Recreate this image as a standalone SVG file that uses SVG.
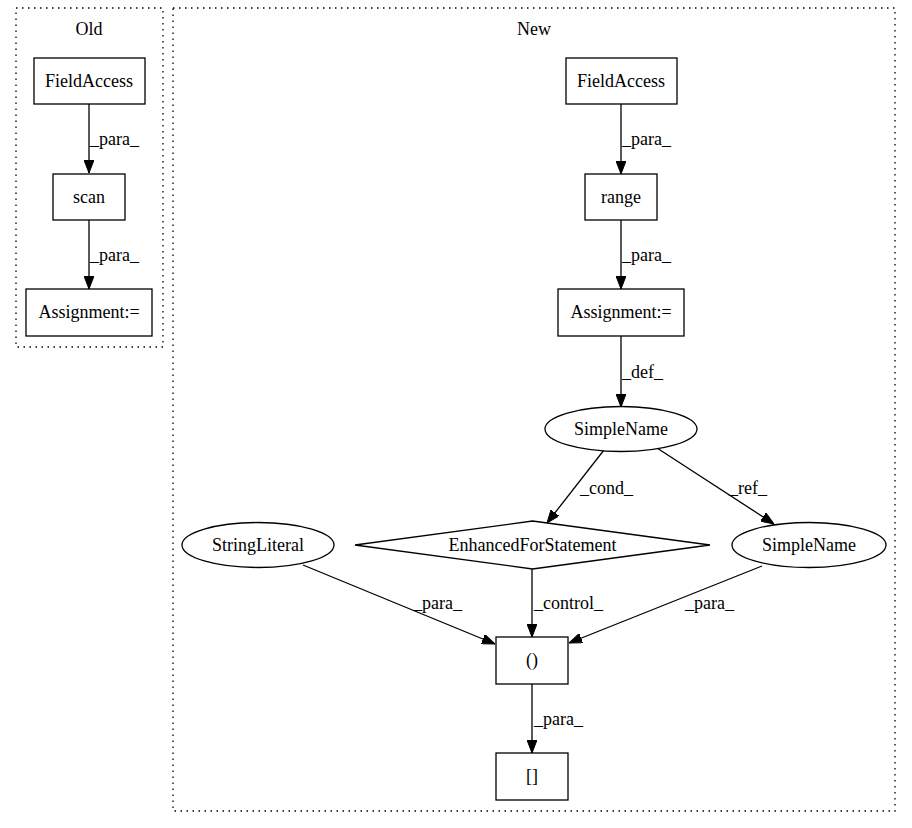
<svg xmlns="http://www.w3.org/2000/svg" width="912" height="828" viewBox="0 0 912 828">
<defs>
<style>
text { font-family: "Liberation Serif", "Times New Roman", serif; font-size: 18px; fill: #000; }
.c { text-anchor: middle; }
.node { fill: #fff; stroke: #000; stroke-width: 1.3; }
.edge { fill: none; stroke: #000; stroke-width: 1.3; marker-end: url(#arrow); }
.cluster { fill: none; stroke: #000; stroke-width: 1.3; stroke-dasharray: 1.5,4.5; }
</style>
<marker id="arrow" markerUnits="userSpaceOnUse" viewBox="0 0 13 10" markerWidth="13" markerHeight="10" refX="13" refY="5" orient="auto">
<path d="M0,0 L13,5 L0,10 z" fill="#000" stroke="#000" stroke-width="1"/>
</marker>
</defs>
<rect width="912" height="828" fill="#fff"/>

<g id="cluster_old">
<rect class="cluster" x="16" y="8" width="147" height="339"/>
<text class="c" x="89" y="35">Old</text>
</g>
<g id="cluster_new">
<rect class="cluster" x="173" y="8" width="722" height="803"/>
<text class="c" x="534" y="35">New</text>
</g>

<g id="connectors">
<line class="edge" x1="89" y1="104" x2="89" y2="173"/>
<text x="90" y="145">_para_</text>
<line class="edge" x1="89" y1="220" x2="89" y2="289"/>
<text x="90" y="261">_para_</text>

<line class="edge" x1="621" y1="104" x2="621" y2="174"/>
<text x="622" y="145">_para_</text>
<line class="edge" x1="621" y1="220" x2="621" y2="289"/>
<text x="622" y="261">_para_</text>
<line class="edge" x1="621" y1="336" x2="621" y2="407"/>
<text x="622" y="378">_def_</text>
<line class="edge" x1="604" y1="450" x2="547" y2="523"/>
<text x="580" y="494">_cond_</text>
<line class="edge" x1="657" y1="448" x2="774" y2="524"/>
<text x="729" y="494">_ref_</text>
<line class="edge" x1="303" y1="565" x2="495" y2="644"/>
<text x="413" y="609">_para_</text>
<line class="edge" x1="532" y1="569" x2="532" y2="637"/>
<text x="534" y="609">_control_</text>
<line class="edge" x1="762" y1="566" x2="569" y2="643"/>
<text x="685" y="609">_para_</text>
<line class="edge" x1="532" y1="684" x2="532" y2="753"/>
<text x="534" y="725">_para_</text>
</g>

<g id="old_fieldaccess">
<rect class="node" x="34" y="58" width="111" height="46"/>
<text class="c" x="89" y="87">FieldAccess</text>
</g>
<g id="old_scan">
<rect class="node" x="53" y="174" width="72" height="46"/>
<text class="c" x="89" y="203">scan</text>
</g>
<g id="old_assignment">
<rect class="node" x="26" y="289" width="126" height="47"/>
<text class="c" x="89" y="318">Assignment:=</text>
</g>

<g id="new_fieldaccess">
<rect class="node" x="566" y="58" width="111" height="46"/>
<text class="c" x="621" y="87">FieldAccess</text>
</g>
<g id="new_range">
<rect class="node" x="585" y="174" width="72" height="46"/>
<text class="c" x="621" y="203">range</text>
</g>
<g id="new_assignment">
<rect class="node" x="558" y="289" width="126" height="47"/>
<text class="c" x="621" y="318">Assignment:=</text>
</g>
<g id="simplename_def">
<ellipse class="node" cx="621" cy="429" rx="76" ry="22.5"/>
<text class="c" x="621" y="435">SimpleName</text>
</g>
<g id="stringliteral">
<ellipse class="node" cx="258" cy="545" rx="76" ry="22.5"/>
<text class="c" x="258" y="551">StringLiteral</text>
</g>
<g id="enhancedfor">
<polygon class="node" points="532.5,521 710,545 532.5,569 355,545"/>
<text class="c" x="532.5" y="551">EnhancedForStatement</text>
</g>
<g id="simplename_ref">
<ellipse class="node" cx="809" cy="545" rx="77" ry="22.5"/>
<text class="c" x="809" y="551">SimpleName</text>
</g>
<g id="paren">
<rect class="node" x="496" y="637" width="72" height="47"/>
<text class="c" x="532" y="666">()</text>
</g>
<g id="brackets">
<rect class="node" x="496" y="753" width="72" height="47"/>
<text class="c" x="532" y="782">[]</text>
</g>
</svg>
